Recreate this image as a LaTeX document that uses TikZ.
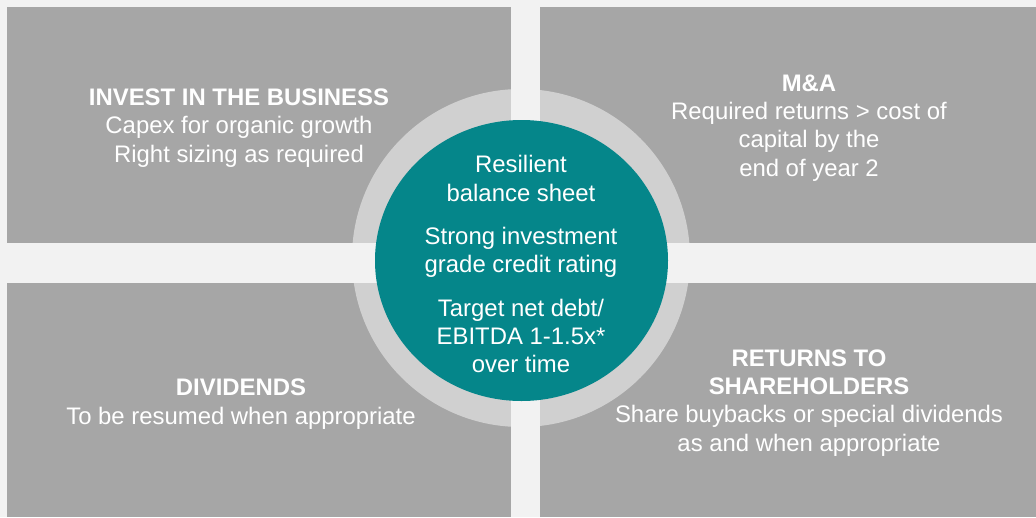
\documentclass[tikz,border=0pt]{standalone}
\usepackage{fontspec}
\usetikzlibrary{shapes.geometric}
\setmainfont{Liberation Sans}
\definecolor{pagebg}{HTML}{F2F2F2}
\definecolor{panelgray}{HTML}{A6A6A6}
\definecolor{ringgray}{HTML}{D0D0D0}
\definecolor{coreteal}{HTML}{05868A}
\begin{document}
\begin{tikzpicture}[x=1pt,y=-1pt,
  panel/.style={fill=panelgray,draw=none},
  % anchor=base sits on the baseline of the last line
  label/.style={text=white,align=center,anchor=base,inner sep=0pt,
    font=\fontsize{23.9}{28.3}\selectfont}]
% page
\fill[pagebg] (0,0) rectangle (1036,517);
\useasboundingbox (0,0) rectangle (1036,517);
% four quadrant panels
\path[panel] (7,7) rectangle (511,243);
\path[panel] (540,7) rectangle (1036,243);
\path[panel] (7,283) rectangle (511,517);
\path[panel] (540,283) rectangle (1036,517);
% ring behind the core, cut by the cross-shaped gutters
\fill[ringgray] (521,258) circle[radius=169];
\fill[pagebg] (511,0) rectangle (540,517);
\fill[pagebg] (0,243) rectangle (1036,283);
% central core
\node[fill=coreteal,draw=none,ellipse,minimum width=293pt,minimum height=281pt,inner sep=0pt] (core) at (521.5,260.5) {};
% texts
\node[label] (invest) at (239,162.2) {\textbf{INVEST IN THE BUSINESS}\\Capex for organic growth\\Right sizing as required};
\node[label] (mna) at (809,176) {\textbf{M\&A}\\Required returns > cost of\\capital by the\\end of year 2};
\node[label] (div) at (241,424) {\textbf{DIVIDENDS}\\To be resumed when appropriate};
\node[label] (ret) at (809,451) {\textbf{RETURNS TO}\\\textbf{SHAREHOLDERS}\\Share buybacks or special dividends\\as and when appropriate};
\node[label] (coretext) at (521,372.7) {Resilient\\balance sheet\\[15pt]Strong investment\\grade credit rating\\[15pt]Target net debt/\\EBITDA 1-1.5x*\\over time};
\end{tikzpicture}
\end{document}
